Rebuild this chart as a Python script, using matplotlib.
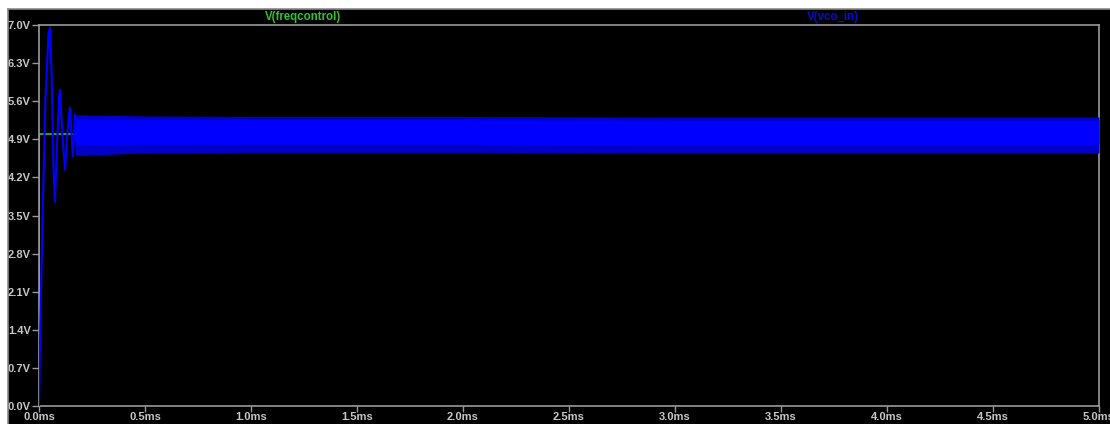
import numpy as np
import matplotlib
matplotlib.use('Agg')
import matplotlib.pyplot as plt
from matplotlib.patches import Rectangle
from matplotlib.lines import Line2D

plt.rcParams['font.family'] = ['Liberation Sans', 'DejaVu Sans']

# V(freqcontrol): step to 5 V at t=0
freq_t = [0.0, 0.0, 5.0]
freq_v = [0.0, 5.0, 5.0]

vco_t = [0.0, 0.004, 0.010, 0.019, 0.030, 0.045, 0.052, 0.060, 0.068, 0.075,
         0.085, 0.095, 0.099, 0.110, 0.123, 0.135, 0.146, 0.160, 0.170]
vco_v = [0.0, 1.0, 2.2, 3.8, 5.6, 6.85, 6.95, 6.0, 4.4, 3.75,
         4.8, 5.7, 5.81, 5.0, 4.34, 5.1, 5.48, 4.58, 5.35]

# V(vco_in): steady ripple band (envelope)
band_t = [0.17, 0.5, 1.0, 2.0, 3.0, 4.0, 5.0]
band_hi = [5.35, 5.33, 5.32, 5.32, 5.31, 5.31, 5.31]
band_lo = [4.60, 4.65, 4.66, 4.66, 4.65, 4.65, 4.65]
core_hi = [5.27, 5.26, 5.26, 5.26, 5.25, 5.25, 5.25]
core_lo = [4.80, 4.81, 4.81, 4.81, 4.80, 4.80, 4.80]

y_ticks = [0.0, 0.7, 1.4, 2.1, 2.8, 3.5, 4.2, 4.9, 5.6, 6.3, 7.0]
x_ticks = [0.0, 0.5, 1.0, 1.5, 2.0, 2.5, 3.0, 3.5, 4.0, 4.5, 5.0]

W, H = 1110, 424
fig = plt.figure(figsize=(W / 100, H / 100), dpi=100, facecolor='black')

# white frame strips on the top and left, grey border line
fig.patches.append(Rectangle((0, (H - 9) / H), 1, 9 / H, transform=fig.transFigure,
                             facecolor='white', edgecolor='none', zorder=0))
fig.patches.append(Rectangle((0, 0), 8 / W, 1, transform=fig.transFigure,
                             facecolor='white', edgecolor='none', zorder=0))
fig.lines.append(Line2D([8 / W, 1], [(H - 9) / H] * 2, transform=fig.transFigure,
                        color='#8a8a8a', lw=1.2))
fig.lines.append(Line2D([8 / W] * 2, [0, (H - 9) / H], transform=fig.transFigure,
                        color='#8a8a8a', lw=1.2))

ax = fig.add_axes([39 / W, 18 / H, 1060 / W, 381 / H], facecolor='black')

green = '#2ec42e'
blue = '#0000ff'

ax.plot(freq_t, freq_v, color=green, lw=1.2, zorder=2)
ax.fill_between(band_t, band_lo, band_hi, color='#0000c8', lw=0, zorder=3)
ax.fill_between(band_t, core_lo, core_hi, color=blue, lw=0, zorder=4)
ax.plot(vco_t, vco_v, color=blue, lw=1.5, zorder=5)

ax.set_xlim(0, 5.0)
ax.set_ylim(0, 7.0)
ax.set_xticks(x_ticks)
ax.set_xticklabels([f'{x:.1f}ms' for x in x_ticks])
ax.set_yticks(y_ticks)
ax.set_yticklabels([f'{y:.1f}V' for y in y_ticks])

for s in ax.spines.values():
    s.set_color('#9a9a9a')
    s.set_linewidth(1.2)
ax.tick_params(colors='#9a9a9a', width=1, direction='out',
               labelcolor='#c8c8c8', labelsize=8)
ax.tick_params(axis='y', length=5, pad=1)
ax.tick_params(axis='x', length=4, pad=0)
for lbl in ax.get_xticklabels() + ax.get_yticklabels():
    lbl.set_fontweight('bold')

fig.text(303 / W, (H - 17) / H, 'V(freqcontrol)', color=green, fontsize=8.3,
         fontweight='bold', ha='center', va='center')
fig.text(833 / W, (H - 17) / H, 'V(vco_in)', color='#0a0ad0', fontsize=8.3,
         fontweight='bold', ha='center', va='center')

fig.savefig('out.png', dpi=100, facecolor='black')
